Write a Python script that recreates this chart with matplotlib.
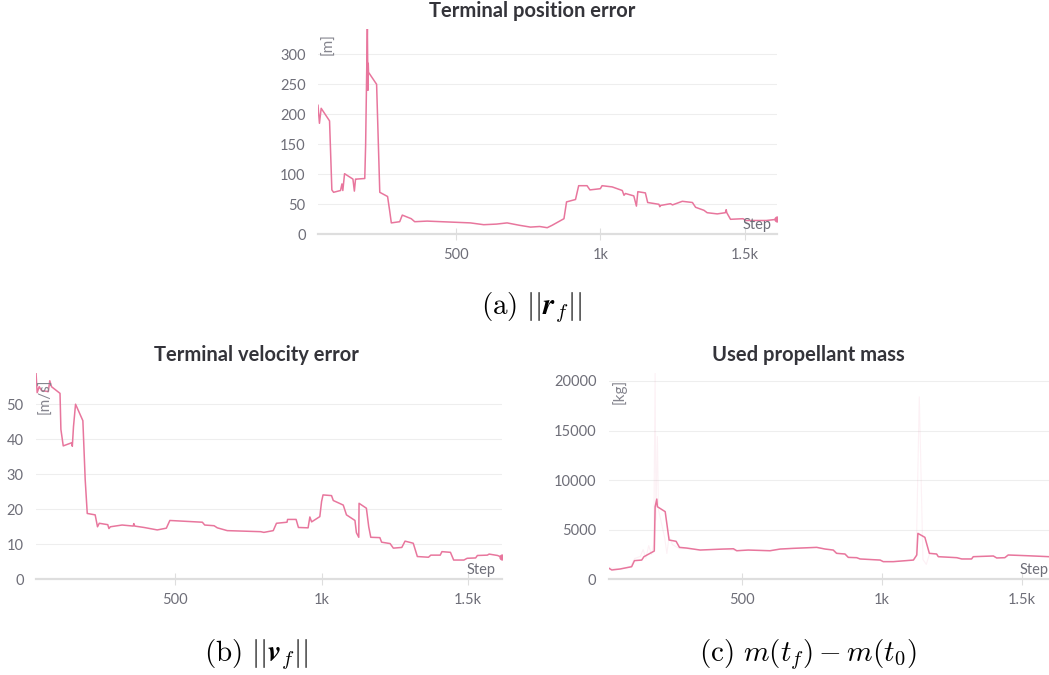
import matplotlib
matplotlib.use("Agg")
import matplotlib.pyplot as plt

# ---------------- data ----------------
pos_steps = [22, 27, 33, 62, 70, 76, 100, 105, 108, 114, 143, 148, 152, 155, 184, 187, 190,
             193, 195, 196, 197, 225, 236, 263, 270, 276, 305, 314, 345, 357, 400, 450, 500,
             550, 596, 640, 677, 720, 758, 790, 816, 833, 874, 883, 914, 925, 954, 964, 1000,
             1006, 1041, 1076, 1082, 1087, 1116, 1125, 1130, 1156, 1164, 1203, 1206, 1208,
             1243, 1250, 1284, 1319, 1330, 1359, 1370, 1405, 1433, 1436, 1438, 1451, 1494,
             1505, 1575, 1612]
pos_err = [215, 185, 210, 189, 74, 70, 73, 84, 73, 101, 92, 72, 92, 92, 93, 149, 250,
           343, 240, 285, 270, 250, 70, 63, 40, 19, 21, 32, 26, 21, 22, 21, 20,
           19, 16, 17, 19, 15, 12, 13, 11, 15, 26, 54, 58, 81, 81, 74, 76,
           81, 79, 73, 65, 68, 64, 47, 71, 69, 53, 50, 46, 48,
           51, 49, 55, 53, 45, 40, 36, 34, 36, 41, 36, 25, 26,
           23, 23, 25]

vel_steps = [25, 29, 36, 44, 67, 72, 78, 107, 110, 118, 147, 149, 153, 160, 185, 193, 200,
             227, 235, 241, 270, 274, 279, 319, 357, 359, 362, 394, 439, 470, 482, 593, 601,
             633, 644, 678, 792, 803, 835, 846, 882, 884, 913, 921, 954, 960, 966, 994, 1000,
             1005, 1034, 1040, 1074, 1085, 1114, 1119, 1127, 1128, 1153, 1161, 1168, 1199,
             1205, 1234, 1245, 1274, 1285, 1313, 1327, 1365, 1373, 1405, 1411, 1440, 1451,
             1486, 1497, 1526, 1532, 1566, 1572, 1601, 1615]
vel_err = [59, 53.3, 55, 53.9, 53.6, 56.7, 55, 53.1, 42.8, 38.1, 39, 38, 43.6, 50, 45.3, 28.4, 18.8,
           18.4, 15, 16, 15.6, 14.5, 15, 15.5, 15.2, 15.9, 15.2, 14.8, 14.1, 14.6, 16.8, 16.3, 15.5,
           15.3, 14.7, 13.9, 13.6, 13.4, 13.9, 16, 16.3, 17.1, 17.1, 14.8, 14.7, 17.8, 16.4, 17.9, 22.2,
           24.1, 23.9, 22.5, 21.2, 18.4, 16.8, 13.3, 12, 21.7, 20.3, 15, 12, 11.9,
           10.6, 10.2, 8.9, 9.1, 10.9, 10.3, 6.5, 6.3, 6.9, 6.9, 7.9, 7.7, 5.5,
           5.5, 6, 6.1, 6.8, 6.9, 7.2, 6.8, 6.3]

mass_steps = [23, 33, 63, 104, 114, 140, 148, 185, 188, 194, 196, 224, 238, 263, 275, 301,
              349, 432, 468, 480, 521, 599, 635, 682, 766, 796, 825, 837, 867, 879, 909, 921,
              993, 1004, 1040, 1112, 1124, 1128, 1153, 1169, 1195, 1201, 1267, 1285, 1320,
              1326, 1398, 1410, 1439, 1451, 1517, 1597]
mass_used = [1110, 940, 1040, 1270, 1880, 1940, 2280, 2850, 7320, 8090, 7320, 6820, 3960, 3830,
             3220, 3150, 2950, 3050, 3080, 2880, 2950, 2880, 3050, 3120, 3220, 3050, 2950, 2620,
             2550, 2210, 2180, 2050, 1940, 1780, 1780, 1940, 2450, 4630, 4230, 2620, 2550, 2280,
             2180, 2050, 2050, 2280, 2350, 2150, 2180, 2450, 2380, 2280]

mass_raw_steps = [23, 60, 100, 115, 135, 145, 155, 165, 175, 183, 188, 191, 196, 200, 212, 222,
                  230, 238, 250, 275, 300, 350, 430, 480, 520, 600, 640, 680, 765, 800, 830,
                  840, 870, 880, 910, 922, 995, 1005, 1040, 1110, 1122, 1133, 1146, 1158, 1170,
                  1195, 1201, 1267, 1285, 1320, 1326, 1398, 1410, 1439, 1451, 1517, 1597]
mass_raw = [1150, 1050, 1300, 2100, 2300, 3000, 2100, 3400, 2500, 3500, 20800, 6000, 14400, 7000,
            5500, 4200, 2600, 4300, 3500, 3100, 3100, 2950, 3050, 2880, 2950, 2880, 3050, 3120,
            3220, 3050, 2950, 2600, 2550, 2200, 2180, 2050, 1940, 1780, 1780, 1940, 2300, 18400,
            2000, 1500, 2600, 2550, 2280, 2180, 2050, 2050, 2280, 2350, 2150, 2180, 2450, 2380, 2280]

x_ticks = [500, 1000, 1500]
x_tick_labels = ["500", "1k", "1.5k"]

# ---------------- style ----------------
W, H = 1049, 675
LINE = "#e8769d"
TICK_TXT = "#6e6e78"
UNIT_TXT = "#85858e"
TITLE_TXT = "#34343a"
GRID = "#eeeeee"
AXIS = "#dedede"
UI_FONT = "Lato"

plt.rcParams["mathtext.fontset"] = "cm"

fig = plt.figure(figsize=(W / 100, H / 100), dpi=100)
fig.patch.set_facecolor("white")


def px_axes(left, top, right, bottom):
    return fig.add_axes([left / W, 1 - bottom / H, (right - left) / W, (bottom - top) / H])


def style_panel(ax, xlim, ylim, yticks, ytick_labels):
    ax.set_xlim(*xlim)
    ax.set_ylim(*ylim)
    for s in ["top", "right", "left"]:
        ax.spines[s].set_visible(False)
    ax.spines["bottom"].set_color(AXIS)
    ax.spines["bottom"].set_linewidth(1.6)
    ax.set_xticks(x_ticks)
    ax.set_xticklabels(x_tick_labels)
    ax.set_yticks(yticks)
    ax.set_yticklabels(ytick_labels)
    ax.tick_params(axis="x", direction="inout", length=8, width=0.8, color=AXIS,
                   labelsize=10.5, labelcolor=TICK_TXT, pad=6)
    ax.tick_params(axis="y", length=0, labelsize=10.5, labelcolor=TICK_TXT, pad=9)
    for lab in ax.get_xticklabels() + ax.get_yticklabels():
        lab.set_fontfamily(UI_FONT)
    for y in yticks[1:]:
        ax.axhline(y, color=GRID, lw=0.8, zorder=0)
    ax.set_facecolor("none")


# (a) terminal position error
ax_a = px_axes(318, 28.5, 777, 234.3)
ax_a.plot(pos_steps, pos_err, color=LINE, lw=1.1, zorder=3)
ax_a.plot(pos_steps[-1], pos_err[-1], "o", color=LINE, ms=3.5, zorder=4)
style_panel(ax_a, (pos_steps[0], pos_steps[-1]), (0, 343),
            [0, 50, 100, 150, 200, 250, 300], ["0", "50", "100", "150", "200", "250", "300"])

# (b) terminal velocity error
ax_b = px_axes(36, 372.7, 501.7, 579.3)
ax_b.plot(vel_steps, vel_err, color=LINE, lw=1.1, zorder=3)
ax_b.plot(vel_steps[-1], vel_err[-1], "o", color=LINE, ms=3.5, zorder=4)
style_panel(ax_b, (vel_steps[0], vel_steps[-1]), (0, 59),
            [0, 10, 20, 30, 40, 50], ["0", "10", "20", "30", "40", "50"])

# (c) used propellant mass
ax_c = px_axes(609, 373, 1049, 579.3)
ax_c.plot(mass_raw_steps, mass_raw, color=LINE, lw=0.8, alpha=0.10, zorder=2)
ax_c.plot(mass_steps, mass_used, color=LINE, lw=1.1, zorder=3)
style_panel(ax_c, (mass_steps[0], mass_steps[-1]), (0, 20800),
            [0, 5000, 10000, 15000, 20000], ["0", "5000", "10000", "15000", "20000"])


def ftext(x, y, s, **kw):
    fig.text(x / W, 1 - y / H, s, **kw)


# panel titles
for x, y, s in [(532.5, 11, "Terminal position error"),
                (256.7, 355, "Terminal velocity error"),
                (808.7, 355, "Used propellant mass")]:
    ftext(x, y, s, ha="center", va="center", fontsize=14.5, fontweight="bold",
          color=TITLE_TXT, family=UI_FONT)

# unit labels
for x, y, s in [(328, 44, "[m]"), (45.5, 396, "[m/s]"), (619, 391, "[kg]")]:
    ftext(x, y, s, ha="center", va="center", rotation=90, fontsize=11,
          color=UNIT_TXT, family=UI_FONT)

# x-axis name
for x, y in [(772, 225), (496, 570), (1049, 570)]:
    ftext(x, y, "Step", ha="right", va="center", fontsize=10.5, color=TICK_TXT, family=UI_FONT)

# captions
ftext(531.5, 308, r"$\mathrm{(a)}\ ||\boldsymbol{r}_f||$", ha="center", va="center",
      fontsize=21, color="black")
ftext(256, 655, r"$\mathrm{(b)}\ ||\boldsymbol{v}_f||$", ha="center", va="center",
      fontsize=21, color="black")
ftext(807.5, 655, r"$\mathrm{(c)}\ m(t_f) - m(t_0)$", ha="center", va="center",
      fontsize=21, color="black")

fig.savefig("out.png", dpi=100, facecolor="white")
